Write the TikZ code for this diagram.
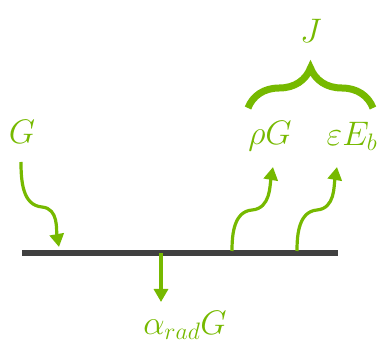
\RequirePackage{fix-cm}
\documentclass[tikz,border=0pt]{standalone}
\usetikzlibrary{arrows.meta,decorations.pathreplacing}
\definecolor{nvgreen}{RGB}{118,185,0}
\definecolor{surf}{RGB}{64,64,64}
\tikzset{
  lbl/.style={text=nvgreen,font=\fontsize{34}{40}\selectfont,inner sep=0pt},
  flow/.style={draw=nvgreen,line width=3.2pt,-{Triangle[width=14pt,length=13pt]}},
}
\begin{document}
\begin{tikzpicture}[x=1pt,y=1pt]
\useasboundingbox (0,0) rectangle (378,343);
\draw[surf,line width=5.5pt] (22,90) coordinate (sl) -- (338,90) coordinate (sr);
\node[lbl] (G) at (22,211) {$G$};
\node[lbl] (rG) at (270,207) {$\rho G$};
\node[lbl] (eE) at (352,207) {$\varepsilon E_b$};
\node[lbl] (J) at (311,312) {$J$};
\node[lbl] (aG) at (185,18) {$\alpha_{rad}G$};
\coordinate (g0) at (21,181);
\coordinate (g1) at (59,96);
\coordinate (r0) at (232,92);
\coordinate (r1) at (273,176);
\coordinate (e0) at (297,92);
\coordinate (e1) at (337,176);
\coordinate (d0) at (161,90);
\coordinate (d1) at (161,41);
\draw[flow] (g0) to[out=-90,in=175] (42,136) to[out=-5,in=100] (g1);
\draw[flow] (r0) to[out=90,in=185] (252,133) to[out=5,in=-100] (r1);
\draw[flow] (e0) to[out=90,in=185] (317,133) to[out=5,in=-100] (e1);
\draw[flow] (d0) -- (d1);
\draw[nvgreen,line width=7pt,decorate,decoration={brace,amplitude=40pt}] (248,235) coordinate (b0) -- (373,235) coordinate (b1);
\end{tikzpicture}
\end{document}
